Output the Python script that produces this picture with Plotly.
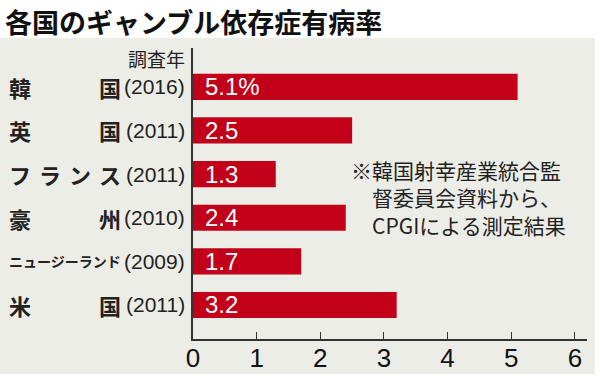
import plotly.graph_objects as go

# ---- data ----
countries = ["韓国", "英国", "フランス", "豪州", "ニュージーランド", "米国"]
years = ["(2016)", "(2011)", "(2011)", "(2010)", "(2009)", "(2011)"]
values = [5.1, 2.5, 1.3, 2.4, 1.7, 3.2]
value_labels = ["5.1%", "2.5", "1.3", "2.4", "1.7", "3.2"]
x_ticks = [0, 1, 2, 3, 4, 5, 6]
title_text = "各国のギャンブル依存症有病率"
header_text = "調査年"
note_lines = ["※韓国射幸産業統合監", "　督委員会資料から、", "　CPGIによる測定結果"]

# ---- layout geometry (pixels) ----
W, H = 600, 376
ML, MR, MT, MB = 193, 13, 48, 37
PW = W - ML - MR
PH = H - MT - MB

def px_x(p):
    return (p - ML) / PW

def px_y(p):
    return (H - MB - p) / PH

RED = "#C3001A"
GRAY = "#EDEDE7"
DARK = "#222222"
SANS = "Noto Sans CJK JP"
NUM = "Liberation Sans, Arial"

fig = go.Figure()
fig.add_trace(go.Bar(
    y=countries, x=values, orientation="h",
    marker=dict(color=RED, line=dict(width=0)),
    width=0.6, textposition="none", hoverinfo="skip",
))

ann = []
# title
ann.append(dict(text=f"<b>{title_text}</b>", xref="paper", yref="paper",
                x=px_x(3), y=px_y(0.5), xanchor="left", yanchor="top",
                showarrow=False, font=dict(family=SANS, size=27, color="#111")))
# header
ann.append(dict(text=header_text, xref="paper", yref="paper",
                x=px_x(187), y=px_y(58), xanchor="right", yanchor="middle",
                showarrow=False, font=dict(family=SANS, size=19, color=DARK)))
# category labels
name_left, name_right = 7, 119
for c, yr in zip(countries, years):
    if len(c) > 4:
        ann.append(dict(text=f"<b>{c}</b>", xref="paper", yref="y", x=px_x(name_left), y=c,
                        xanchor="left", yanchor="middle", showarrow=False,
                        font=dict(family=SANS, size=14, color=DARK)))
    else:
        n = len(c)
        cw = 22
        for i, ch in enumerate(c):
            left = name_left + (name_right - cw - name_left) * i / (n - 1)
            ann.append(dict(text=f"<b>{ch}</b>", xref="paper", yref="y",
                            x=px_x(left), y=c, xanchor="left", yanchor="middle",
                            showarrow=False,
                            font=dict(family=SANS, size=22, color=DARK)))
    ann.append(dict(text=yr, xref="paper", yref="y", x=px_x(187), y=c,
                    xanchor="right", yanchor="middle", showarrow=False,
                    font=dict(family=NUM, size=21, color=DARK)))
# value labels inside bars
for c, lab in zip(countries, value_labels):
    ann.append(dict(text=lab, xref="x", yref="y", x=0, y=c, xshift=10,
                    xanchor="left", yanchor="middle", showarrow=False,
                    font=dict(family="Liberation Sans, Arial", size=24, color="white")))
# note
ann.append(dict(text="<br>".join(note_lines), xref="paper", yref="paper",
                x=px_x(349), y=px_y(198), xanchor="left", yanchor="middle",
                align="left", showarrow=False,
                font=dict(family=SANS, size=21, color=DARK)))

fig.update_layout(
    width=W, height=H,
    margin=dict(l=ML, r=MR, t=MT, b=MB, pad=0, autoexpand=False),
    paper_bgcolor="white", plot_bgcolor="white",
    showlegend=False,
    annotations=ann,
    shapes=[dict(type="rect", xref="paper", yref="paper", layer="below",
                 x0=px_x(0), x1=px_x(595), y0=px_y(374), y1=px_y(38),
                 fillcolor=GRAY, line=dict(width=0))],
    xaxis=dict(range=[0, 6.19], tickvals=x_ticks, ticktext=[str(t) for t in x_ticks],
               showgrid=False, zeroline=False, showline=True, linecolor="#333",
               linewidth=1.5, ticks="inside", ticklen=7, tickcolor="#333",
               ticklabelstandoff=-5,
               tickfont=dict(family="Liberation Sans, Arial", size=26, color="#111"),
               automargin=False, fixedrange=True),
    yaxis=dict(range=[5.78, -0.89], showticklabels=False, showgrid=False,
               zeroline=False, showline=True, linecolor="#333", linewidth=1.5,
               ticks="", automargin=False, fixedrange=True),
)

fig.write_html("out.html", config={"displayModeBar": False},
               post_script="document.body.style.margin='0';")
